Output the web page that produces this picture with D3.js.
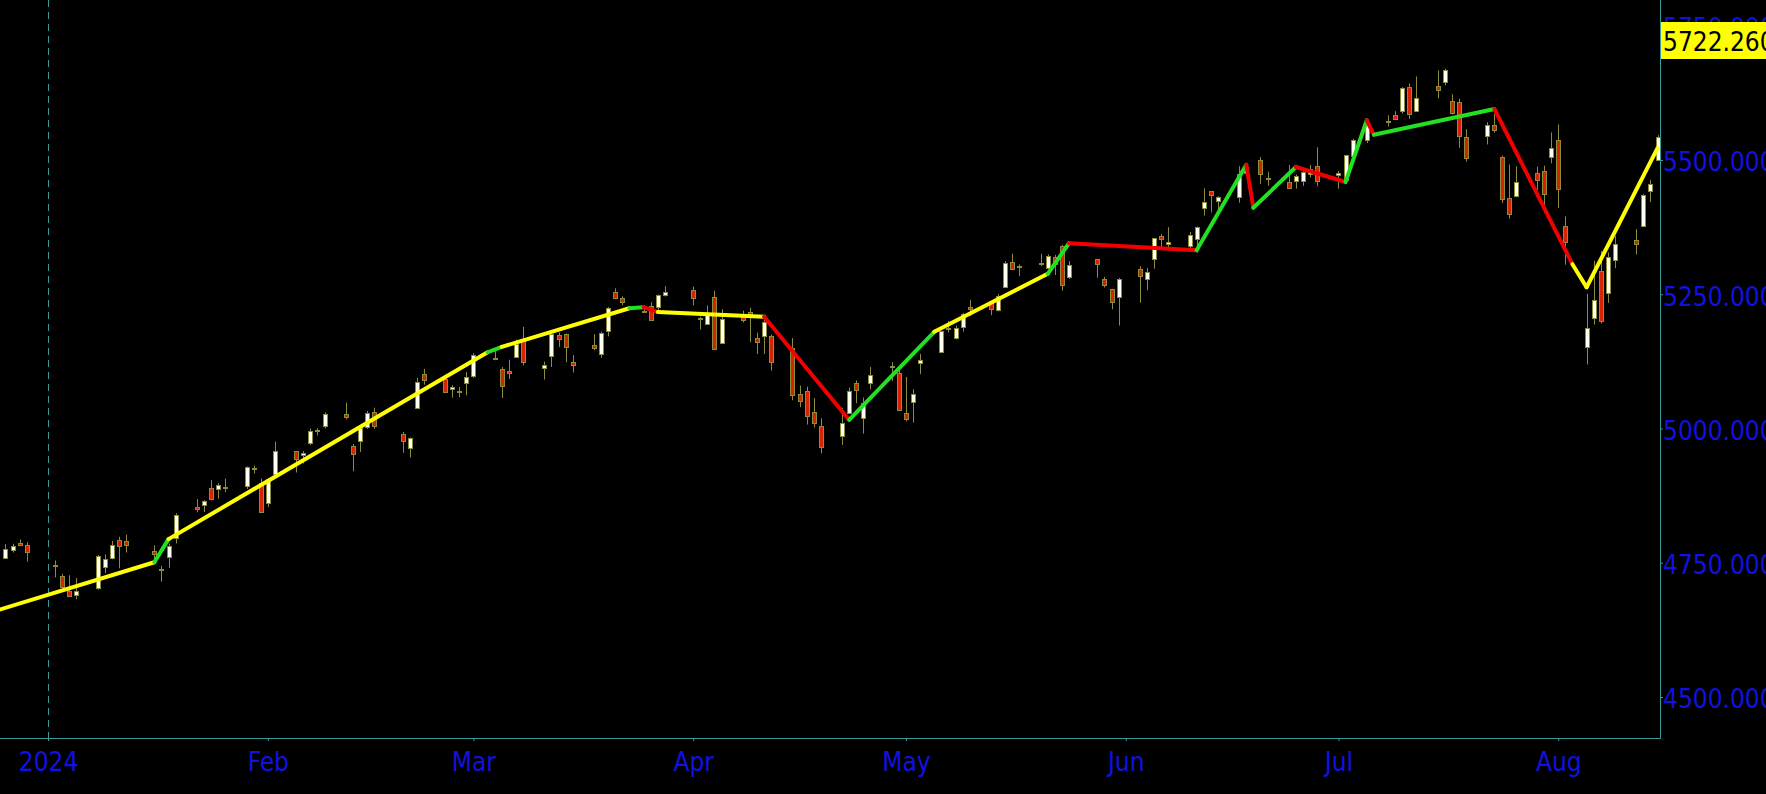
<!DOCTYPE html>
<html>
<head>
<meta charset="utf-8">
<script src="https://cdn.jsdelivr.net/npm/d3@7"></script>
<style>
  html, body { margin: 0; padding: 0; background: #000; overflow: hidden; }
  text { font-family: "DejaVu Sans Condensed", "DejaVu Sans", sans-serif; font-stretch: condensed; }
</style>
</head>
<body>
<div id="chart"></div>
<script>
// trading sessions, one row per month
const sessions = [
    '2023-12-26', '2023-12-27', '2023-12-28', '2023-12-29',
    '2024-01-02', '2024-01-03', '2024-01-04', '2024-01-05', '2024-01-08', '2024-01-09', '2024-01-10', '2024-01-11', '2024-01-12', '2024-01-16', '2024-01-17', '2024-01-18', '2024-01-19', '2024-01-22', '2024-01-23', '2024-01-24', '2024-01-25', '2024-01-26', '2024-01-29', '2024-01-30', '2024-01-31',
    '2024-02-01', '2024-02-02', '2024-02-05', '2024-02-06', '2024-02-07', '2024-02-08', '2024-02-09', '2024-02-12', '2024-02-13', '2024-02-14', '2024-02-15', '2024-02-16', '2024-02-20', '2024-02-21', '2024-02-22', '2024-02-23', '2024-02-26', '2024-02-27', '2024-02-28', '2024-02-29',
    '2024-03-01', '2024-03-04', '2024-03-05', '2024-03-06', '2024-03-07', '2024-03-08', '2024-03-11', '2024-03-12', '2024-03-13', '2024-03-14', '2024-03-15', '2024-03-18', '2024-03-19', '2024-03-20', '2024-03-21', '2024-03-22', '2024-03-25', '2024-03-26', '2024-03-27', '2024-03-28',
    '2024-04-01', '2024-04-02', '2024-04-03', '2024-04-04', '2024-04-05', '2024-04-08', '2024-04-09', '2024-04-10', '2024-04-11', '2024-04-12', '2024-04-15', '2024-04-16', '2024-04-17', '2024-04-18', '2024-04-19', '2024-04-22', '2024-04-23', '2024-04-24', '2024-04-25', '2024-04-26', '2024-04-29', '2024-04-30',
    '2024-05-01', '2024-05-02', '2024-05-03', '2024-05-06', '2024-05-07', '2024-05-08', '2024-05-09', '2024-05-10', '2024-05-13', '2024-05-14', '2024-05-15', '2024-05-16', '2024-05-17', '2024-05-20', '2024-05-21', '2024-05-22', '2024-05-23', '2024-05-24', '2024-05-28', '2024-05-29', '2024-05-30', '2024-05-31',
    '2024-06-03', '2024-06-04', '2024-06-05', '2024-06-06', '2024-06-07', '2024-06-10', '2024-06-11', '2024-06-12', '2024-06-13', '2024-06-14', '2024-06-17', '2024-06-18', '2024-06-20', '2024-06-21', '2024-06-24', '2024-06-25', '2024-06-26', '2024-06-27', '2024-06-28',
    '2024-07-01', '2024-07-02', '2024-07-03', '2024-07-05', '2024-07-08', '2024-07-09', '2024-07-10', '2024-07-11', '2024-07-12', '2024-07-15', '2024-07-16', '2024-07-17', '2024-07-18', '2024-07-19', '2024-07-22', '2024-07-23', '2024-07-24', '2024-07-25', '2024-07-26', '2024-07-29', '2024-07-30', '2024-07-31',
    '2024-08-01', '2024-08-02', '2024-08-05', '2024-08-06', '2024-08-07', '2024-08-08', '2024-08-09', '2024-08-12', '2024-08-13', '2024-08-14', '2024-08-15'
];

// [open, high, low, close] for each session above
const prices = [
    [4758.9, 4784.7, 4758.5, 4774.8], [4773.5, 4785.4, 4768.9, 4781.6], [4786.4, 4793.3, 4781.0, 4783.4], [4782.9, 4788.4, 4752.0, 4769.8],
    [4745.2, 4754.3, 4722.7, 4742.8], [4725.1, 4729.3, 4699.7, 4704.8], [4697.4, 4726.8, 4687.5, 4688.7], [4690.6, 4721.5, 4682.1, 4697.2], [4703.7, 4764.5, 4699.8, 4763.5],
    [4741.9, 4765.5, 4730.4, 4756.5], [4759.9, 4790.8, 4756.2, 4783.5], [4792.1, 4798.5, 4739.6, 4780.2], [4791.2, 4802.4, 4769.0, 4783.8], [4772.4, 4782.3, 4747.1, 4766.0],
    [4739.1, 4744.2, 4714.8, 4739.2], [4760.1, 4785.8, 4740.6, 4780.9], [4796.3, 4842.1, 4785.9, 4839.8], [4853.4, 4868.4, 4844.1, 4850.4], [4856.8, 4866.5, 4844.4, 4864.6],
    [4888.6, 4903.7, 4865.9, 4868.6], [4886.7, 4898.2, 4869.3, 4894.2], [4888.9, 4906.7, 4881.5, 4891.0], [4893.0, 4929.3, 4887.4, 4927.9], [4925.9, 4931.1, 4916.3, 4925.0],
    [4899.2, 4906.8, 4845.2, 4845.7],
    [4861.1, 4907.0, 4853.5, 4906.2], [4916.1, 4975.3, 4908.0, 4958.6], [4957.2, 4957.2, 4918.1, 4942.8], [4950.2, 4957.8, 4934.9, 4954.2], [4973.1, 4999.9, 4969.1, 4995.1],
    [4995.2, 5000.4, 4987.1, 4997.9], [5004.2, 5030.1, 5000.3, 5026.6], [5026.8, 5048.4, 5016.8, 5021.8], [4967.9, 4971.3, 4920.3, 4953.2], [4976.4, 5002.5, 4956.5, 5000.6],
    [5003.1, 5032.7, 4999.4, 5029.7], [5031.1, 5038.7, 4999.5, 5005.6], [4989.3, 4993.7, 4955.0, 4975.5], [4963.0, 4983.2, 4946.0, 4981.8], [5038.8, 5094.4, 5038.8, 5087.0],
    [5100.9, 5111.1, 5081.5, 5088.8], [5093.0, 5097.7, 5068.9, 5069.5], [5074.6, 5080.7, 5057.3, 5078.2], [5067.2, 5077.4, 5058.4, 5069.8], [5085.4, 5105.0, 5061.9, 5096.3],
    [5098.5, 5140.3, 5094.2, 5137.1], [5131.0, 5149.7, 5127.2, 5131.0], [5110.5, 5114.5, 5056.8, 5078.7], [5108.0, 5128.0, 5092.2, 5104.8], [5132.4, 5165.6, 5131.6, 5157.4],
    [5164.5, 5189.3, 5117.5, 5123.7], [5112.0, 5124.7, 5091.1, 5117.9], [5134.3, 5179.9, 5114.5, 5175.3], [5173.5, 5179.1, 5151.9, 5165.3], [5175.1, 5176.9, 5123.3, 5150.5],
    [5123.3, 5136.9, 5104.4, 5117.1], [5154.8, 5175.6, 5145.5, 5149.4], [5139.1, 5180.3, 5131.6, 5178.5], [5181.7, 5226.2, 5171.6, 5224.6], [5253.4, 5261.1, 5240.7, 5241.5],
    [5242.5, 5246.1, 5229.9, 5234.2], [5219.5, 5229.1, 5216.1, 5218.2], [5228.9, 5235.2, 5203.4, 5203.6], [5226.3, 5249.3, 5213.9, 5248.5], [5248.0, 5264.9, 5245.8, 5254.4],
    [5258.0, 5264.0, 5229.2, 5243.8], [5204.3, 5208.3, 5184.1, 5205.8], [5194.4, 5228.8, 5194.4, 5211.5], [5244.1, 5256.6, 5146.1, 5147.2], [5159.0, 5222.2, 5157.2, 5204.3],
    [5211.4, 5219.6, 5197.4, 5202.4], [5217.0, 5224.8, 5160.8, 5209.9], [5167.9, 5178.4, 5138.7, 5160.6], [5173.0, 5211.8, 5138.8, 5199.1], [5171.5, 5175.0, 5107.9, 5123.4],
    [5149.7, 5168.4, 5052.5, 5061.8], [5064.6, 5079.8, 5039.8, 5051.4], [5069.0, 5078.0, 5007.3, 5022.2], [5031.5, 5056.7, 5001.9, 5011.1], [5005.4, 5019.0, 4953.6, 4967.2],
    [4987.3, 5038.8, 4969.4, 5010.6], [5028.9, 5076.1, 5028.0, 5070.6], [5084.9, 5089.5, 5047.0, 5071.6], [5019.9, 5057.8, 4990.6, 5048.4], [5084.7, 5114.6, 5073.1, 5100.0],
    [5114.1, 5123.5, 5088.7, 5116.2], [5103.8, 5110.8, 5035.3, 5035.7],
    [5029.0, 5096.1, 5013.5, 5018.4], [5049.3, 5073.2, 5011.1, 5064.2], [5122.8, 5139.1, 5101.2, 5127.8], [5142.4, 5181.0, 5142.4, 5180.7], [5187.2, 5200.2, 5179.0, 5187.7],
    [5169.0, 5192.0, 5165.9, 5187.7], [5189.0, 5215.3, 5180.4, 5214.1], [5225.5, 5239.7, 5209.7, 5222.7], [5233.1, 5237.3, 5211.2, 5221.4], [5221.1, 5250.4, 5218.0, 5246.7],
    [5263.3, 5311.8, 5263.3, 5308.2], [5310.1, 5325.5, 5296.2, 5297.1], [5303.1, 5305.5, 5283.6, 5303.3], [5305.4, 5325.3, 5302.4, 5308.1], [5298.7, 5324.3, 5297.9, 5321.4],
    [5319.3, 5323.2, 5286.0, 5307.0], [5340.3, 5341.9, 5256.9, 5267.8], [5281.5, 5311.7, 5278.4, 5304.7], [5315.9, 5315.9, 5280.9, 5306.0], [5278.7, 5282.3, 5262.7, 5267.0],
    [5259.8, 5260.2, 5222.1, 5235.5], [5243.2, 5280.3, 5191.7, 5277.5],
    [5297.2, 5302.1, 5234.3, 5283.4], [5278.2, 5298.8, 5257.6, 5291.3], [5314.5, 5354.2, 5297.6, 5354.0], [5357.8, 5362.4, 5335.4, 5353.0], [5343.8, 5375.1, 5331.3, 5347.0],
    [5341.2, 5365.8, 5331.5, 5360.8], [5353.0, 5376.0, 5327.3, 5375.3], [5409.1, 5447.3, 5396.3, 5421.0], [5441.9, 5441.9, 5402.5, 5433.7], [5424.1, 5432.4, 5403.8, 5431.6],
    [5431.1, 5488.5, 5420.4, 5473.2], [5476.2, 5490.4, 5471.3, 5487.0], [5500.0, 5505.5, 5455.6, 5473.2], [5466.8, 5478.3, 5452.0, 5464.6], [5459.6, 5490.7, 5447.6, 5447.9],
    [5460.7, 5472.9, 5446.6, 5469.3], [5460.7, 5483.1, 5451.9, 5477.9], [5473.6, 5490.8, 5467.5, 5482.9], [5488.5, 5523.6, 5451.1, 5460.5],
    [5471.1, 5479.6, 5446.5, 5475.1], [5461.8, 5509.7, 5458.4, 5509.0], [5507.4, 5539.3, 5507.4, 5537.0], [5537.9, 5570.3, 5531.6, 5567.2], [5572.8, 5583.1, 5562.5, 5572.9],
    [5584.2, 5590.8, 5574.6, 5577.0], [5591.3, 5635.4, 5586.4, 5633.9], [5635.2, 5642.5, 5576.5, 5584.5], [5590.8, 5655.6, 5590.4, 5615.4], [5638.2, 5666.9, 5614.8, 5631.2],
    [5644.1, 5669.7, 5639.0, 5667.2], [5610.1, 5622.5, 5584.8, 5588.3], [5608.6, 5614.1, 5522.8, 5544.6], [5543.4, 5557.5, 5497.0, 5505.0], [5544.4, 5570.4, 5529.0, 5564.4],
    [5565.3, 5585.3, 5550.9, 5555.7], [5505.8, 5508.0, 5420.0, 5427.1], [5428.7, 5491.6, 5391.0, 5399.2], [5433.7, 5488.3, 5430.7, 5459.1], [5476.6, 5487.7, 5444.4, 5463.5],
    [5478.7, 5489.5, 5401.7, 5436.4], [5505.6, 5551.5, 5493.8, 5522.3],
    [5537.8, 5566.2, 5410.4, 5446.7], [5376.6, 5395.0, 5305.0, 5346.6], [5151.1, 5250.9, 5119.3, 5186.3], [5206.4, 5312.3, 5193.6, 5240.0], [5293.1, 5330.6, 5195.5, 5199.5],
    [5252.6, 5328.0, 5233.9, 5319.3], [5314.4, 5358.7, 5298.5, 5344.2], [5351.9, 5371.2, 5324.4, 5344.4], [5377.0, 5436.5, 5377.0, 5434.4], [5442.1, 5463.2, 5421.5, 5455.2],
    [5501.1, 5546.2, 5501.1, 5543.2]
];

// trend indicator: vertices and the colour of the segment that ends at each one
const trendDates = ['2023-12-24', '2024-01-16', '2024-01-18', '2024-03-03', '2024-03-05', '2024-03-23', '2024-03-25', '2024-03-27',
    '2024-04-11', '2024-04-23', '2024-05-05', '2024-05-21', '2024-05-24', '2024-06-11', '2024-06-18', '2024-06-19', '2024-06-25',
    '2024-07-02', '2024-07-05', '2024-07-06', '2024-07-23', '2024-08-03', '2024-08-05', '2024-08-15'];
const trendValues = [4658, 4751, 4794, 5142, 5152, 5224, 5226, 5217,
    5208, 5016, 5180, 5288, 5345, 5332, 5491, 5411, 5487,
    5459, 5574, 5547, 5595, 5306, 5263, 5522];
const trendColors = [null, 'flat', 'up', 'flat', 'up', 'flat', 'up', 'down',
    'flat', 'down', 'up', 'flat', 'up', 'down', 'up', 'down', 'up',
    'down', 'up', 'down', 'up', 'down', 'flat', 'flat'];

const priceTicks = [4500, 4750, 5000, 5250, 5500, 5750];
const lastPrice = 5722.26;

const width = 1766, height = 794;
const plotRight = 1660, plotBottom = 738;
const axisColor = '#3a9a9a', labelColor = '#1212e0', wickColor = '#8c8c3c';
const trendPalette = { up: '#22e022', down: '#f00000', flat: '#ffff00' };

const parse = d3.utcParse('%Y-%m-%d');
const x = d3.scaleUtc()
    .domain([parse('2024-01-01'), parse('2024-08-15')])
    .range([48, 1657.5]);
const y = d3.scaleLinear()
    .domain([4500, 5500])
    .range([697, 160]);

const svg = d3.select('#chart')
    .append('svg')
    .attr('width', width)
    .attr('height', height)
    .style('display', 'block')
    .style('background', '#000');

// year separator
svg.append('line')
    .attr('x1', Math.round(x(parse('2024-01-01'))) + 0.5)
    .attr('x2', Math.round(x(parse('2024-01-01'))) + 0.5)
    .attr('y1', 0)
    .attr('y2', plotBottom)
    .attr('stroke', axisColor)
    .attr('stroke-dasharray', '7,5');

const candles = sessions.map((d, i) => ({
    date: parse(d),
    open: prices[i][0], high: prices[i][1], low: prices[i][2], close: prices[i][3]
}));

const candle = svg.append('g')
    .selectAll('g')
    .data(candles)
    .enter().append('g')
    .attr('transform', d => `translate(${Math.round(x(d.date))},0)`);
candle.append('line')
    .attr('x1', 0.5).attr('x2', 0.5)
    .attr('y1', d => y(d.high))
    .attr('y2', d => y(d.low))
    .attr('stroke', wickColor);
candle.append('rect')
    .attr('x', -1.5)
    .attr('width', 4)
    .attr('y', d => Math.round(y(Math.max(d.open, d.close))) + 0.5)
    .attr('height', d => Math.max(1, Math.round(Math.abs(y(d.open) - y(d.close)))))
    .attr('fill', d => d.close >= d.open ? '#fffff0' : '#d62400')
    .attr('stroke', wickColor);

// coloured trend line
const trend = trendDates.map((d, i) => ({ date: parse(d), value: trendValues[i], kind: trendColors[i] }));
svg.append('g')
    .selectAll('line')
    .data(trend.slice(1).map((d, i) => ({ from: trend[i], to: d })))
    .enter().append('line')
    .attr('x1', d => x(d.from.date))
    .attr('y1', d => y(d.from.value))
    .attr('x2', d => x(d.to.date))
    .attr('y2', d => y(d.to.value))
    .attr('stroke', d => trendPalette[d.to.kind])
    .attr('stroke-width', 4)
    .attr('stroke-linecap', 'round');

// axes
const xAxis = svg.append('g')
    .attr('transform', `translate(0,${plotBottom})`)
    .call(d3.axisBottom(x)
        .ticks(d3.utcMonth.every(1))
        .tickSize(3)
        .tickPadding(12)
        .tickFormat(d => d.getUTCMonth() === 0 ? d3.utcFormat('%Y')(d) : d3.utcFormat('%b')(d)));
xAxis.select('.domain').remove();
xAxis.selectAll('line').attr('stroke', axisColor);
xAxis.selectAll('text')
    .attr('fill', labelColor)
    .style('font-size', '26px');

const yAxis = svg.append('g')
    .attr('transform', `translate(${plotRight},0)`)
    .call(d3.axisRight(y)
        .tickValues(priceTicks)
        .tickFormat(d3.format('.3f'))
        .tickSize(3)
        .tickPadding(0));
yAxis.select('.domain').remove();
yAxis.selectAll('line').attr('stroke', axisColor);
yAxis.selectAll('text')
    .attr('fill', labelColor)
    .attr('dy', '0.42em')
    .style('font-size', '26px');

svg.append('line')
    .attr('x1', 0).attr('x2', plotRight + 0.5)
    .attr('y1', plotBottom + 0.5).attr('y2', plotBottom + 0.5)
    .attr('stroke', axisColor);
svg.append('line')
    .attr('x1', plotRight + 0.5).attr('x2', plotRight + 0.5)
    .attr('y1', 0).attr('y2', plotBottom + 0.5)
    .attr('stroke', axisColor);

// last price marker
const lastY = y(lastPrice);
svg.append('rect')
    .attr('x', plotRight + 1)
    .attr('y', Math.round(lastY - 18.5))
    .attr('width', width - plotRight)
    .attr('height', 37)
    .attr('fill', '#ffff00');
svg.append('text')
    .attr('x', plotRight + 3)
    .attr('y', lastY + 10)
    .attr('fill', '#000')
    .style('font-size', '26px')
    .text(d3.format('.3f')(lastPrice));
</script>
</body>
</html>
